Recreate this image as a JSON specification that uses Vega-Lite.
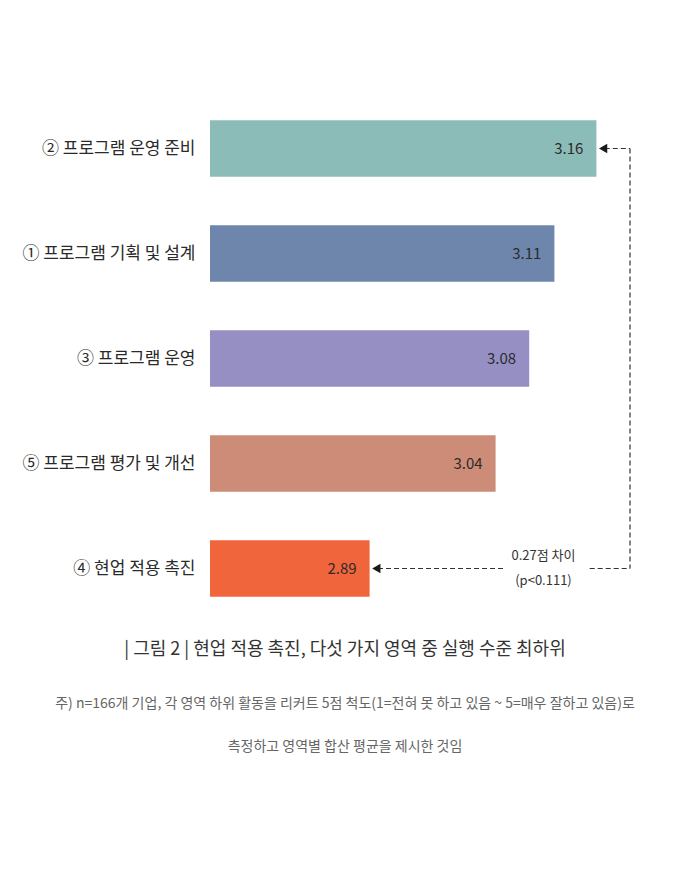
{
  "$schema": "https://vega.github.io/schema/vega-lite/v6.json",
  "width": 420,
  "height": 525,
  "autosize": "none",
  "padding": {"left": 210, "top": 96, "right": 69, "bottom": 262},
  "background": "white",
  "config": {
    "view": {"stroke": null},
    "font": "Noto Sans CJK KR",
    "text": {"font": "Noto Sans CJK KR"}
  },
  "title": {
    "text": "|  그림 2  |   현업 적용 촉진, 다섯 가지 영역 중 실행 수준 최하위",
    "subtitle": ["주) n=166개 기업, 각 영역 하위 활동을 리커트 5점 척도(1=전혀 못 하고 있음 ~ 5=매우 잘하고 있음)로", "측정하고 영역별 합산 평균을 제시한 것임"],
    "orient": "bottom",
    "anchor": "middle",
    "frame": "group",
    "dx": -75,
    "offset": 20,
    "font": "Noto Sans CJK KR",
    "fontSize": 18,
    "fontWeight": "normal",
    "color": "#333333",
    "subtitleFont": "Noto Sans CJK KR",
    "subtitleFontSize": 14,
    "subtitleColor": "#666666",
    "subtitlePadding": 38,
    "subtitleLineHeight": 43
  },
  "datasets": {
    "scores": [
      {"area": "② 프로그램 운영 준비", "score": 3.16},
      {"area": "① 프로그램 기획 및 설계", "score": 3.11},
      {"area": "③ 프로그램 운영", "score": 3.08},
      {"area": "⑤ 프로그램 평가 및 개선", "score": 3.04},
      {"area": "④ 현업 적용 촉진", "score": 2.89}
    ],
    "segments": [
      {"x": 3.17, "x2": 3.2, "y": "② 프로그램 운영 준비", "y2": "② 프로그램 운영 준비"},
      {"x": 3.2, "x2": 3.2, "y": "② 프로그램 운영 준비", "y2": "④ 현업 적용 촉진"},
      {"x": 3.152, "x2": 3.2, "y": "④ 현업 적용 촉진", "y2": "④ 현업 적용 촉진"},
      {"x": 2.9, "x2": 3.05, "y": "④ 현업 적용 촉진", "y2": "④ 현업 적용 촉진"}
    ],
    "arrows": [
      {"x": 3.168, "y": "② 프로그램 운영 준비"},
      {"x": 2.898, "y": "④ 현업 적용 촉진"}
    ],
    "notes": [
      {"x": 3.097, "y": "④ 현업 적용 촉진", "label": "0.27점 차이\n(p<0.111)"}
    ]
  },
  "layer": [
    {
      "data": {"name": "scores"},
      "mark": {"type": "bar"},
      "encoding": {
        "y": {
          "field": "area", "type": "nominal", "sort": null,
          "scale": {"paddingInner": 0.46, "paddingOuter": 0.23},
          "axis": {"title": null, "ticks": false, "domain": false, "labelPadding": 15, "labelFontSize": 17, "labelColor": "#2a2a2a", "labelFont": "Noto Sans CJK KR", "labelLimit": 250}
        },
        "x": {"field": "score", "type": "quantitative", "scale": {"domain": [2.7, 3.2], "zero": false, "nice": false}, "axis": null},
        "x2": {"datum": 2.7},
        "color": {
          "field": "area", "type": "nominal", "legend": null,
          "scale": {
            "domain": ["② 프로그램 운영 준비", "① 프로그램 기획 및 설계", "③ 프로그램 운영", "⑤ 프로그램 평가 및 개선", "④ 현업 적용 촉진"],
            "range": ["#8cbcb8", "#6e86ab", "#958fc4", "#cc8c78", "#f0653c"]
          }
        }
      }
    },
    {
      "data": {"name": "scores"},
      "mark": {"type": "text", "align": "right", "baseline": "middle", "dx": -13, "fontSize": 15, "color": "#2b2b2b"},
      "encoding": {
        "y": {"field": "area", "type": "nominal", "sort": null},
        "x": {"field": "score", "type": "quantitative"},
        "text": {"field": "score", "type": "quantitative", "format": ".2f"}
      }
    },
    {
      "data": {"name": "segments"},
      "mark": {"type": "rule", "color": "#333333", "strokeWidth": 1.2, "strokeDash": [5, 3]},
      "encoding": {
        "x": {"field": "x", "type": "quantitative"},
        "x2": {"field": "x2"},
        "y": {"field": "y", "type": "nominal", "sort": null, "bandPosition": 0.5},
        "y2": {"field": "y2", "bandPosition": 0.5}
      }
    },
    {
      "data": {"name": "arrows"},
      "mark": {"type": "point", "shape": "triangle-left", "filled": true, "size": 90, "color": "#1a1a1a", "opacity": 1},
      "encoding": {
        "x": {"field": "x", "type": "quantitative"},
        "y": {"field": "y", "type": "nominal", "sort": null}
      }
    },
    {
      "data": {"name": "notes"},
      "mark": {"type": "text", "align": "center", "baseline": "middle", "lineBreak": "\n", "lineHeight": 25, "fontSize": 13, "dy": -13, "color": "#333333"},
      "encoding": {
        "x": {"field": "x", "type": "quantitative"},
        "y": {"field": "y", "type": "nominal", "sort": null},
        "text": {"field": "label"}
      }
    }
  ]
}
